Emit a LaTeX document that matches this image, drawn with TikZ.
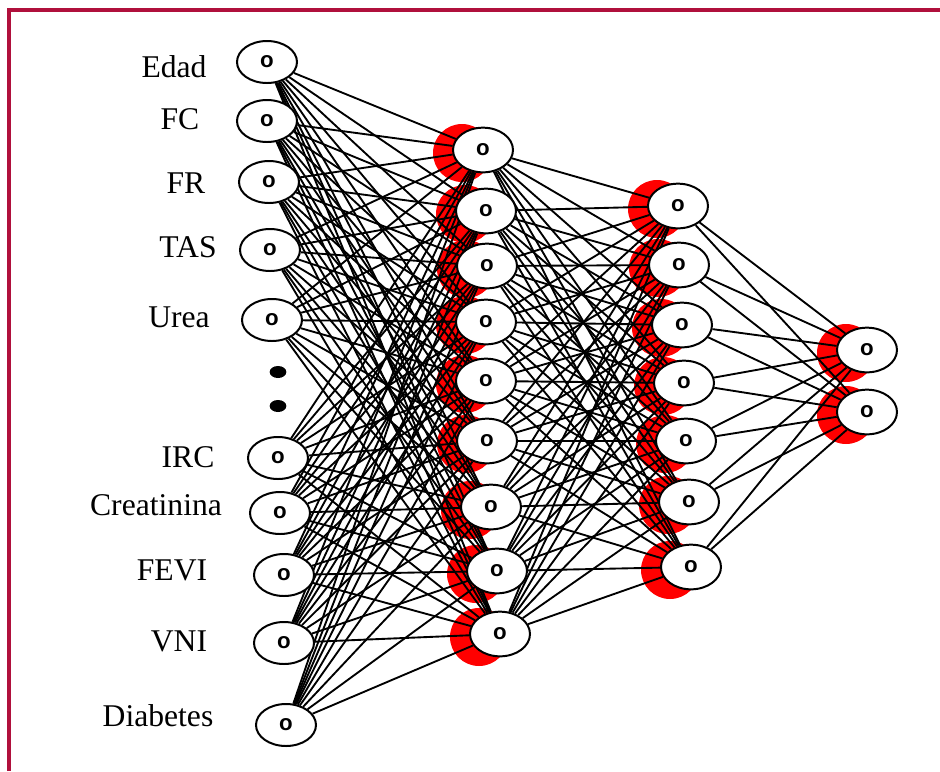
\documentclass[tikz,border=0pt]{standalone}
\usepackage{fontspec}
\setmainfont{Liberation Serif}
\newfontfamily\unitfont{Liberation Sans}
\usetikzlibrary{shapes.geometric}
\pgfdeclarelayer{blob}
\pgfdeclarelayer{wire}
\pgfsetlayers{blob,wire,main}

\begin{document}
\begin{tikzpicture}[x=0.03cm, y=-0.03cm]
  % Colors
  \definecolor{framecol}{RGB}{176,16,60}
  \definecolor{blobcol}{RGB}{255,0,0}
  %
  \def\lw{1.7pt}
  \def\br{0.87cm}
  %
  \tikzset{
    unit/.style={draw, line width=\lw, fill=white, ellipse, inner sep=0pt,
                 minimum width=1.8cm, minimum height=1.26cm,
                 font=\fontsize{19}{19}\selectfont\unitfont\bfseries},
    hunit/.style={unit, minimum height=1.34cm},
    feat/.style={font=\fontsize{27}{30}\selectfont},
    bigdot/.style={fill=black, ellipse, inner sep=0pt, minimum width=0.5cm,
                   minimum height=0.36cm},
    link/.style={line width=1.6pt},
    blob/.style={fill=blobcol},
  }
  %
  \useasboundingbox (0,0) rectangle (940,771);
  %
  % Frame
  \draw[framecol, line width=2.6pt] (9,771) -- (9,10) -- (940,10);
  %
  %%% INPUT LAYER %%%
  \foreach \n/\x/\y/\txt/\tx/\ty in {
    1/267/62/Edad/174/67, 2/267/121/FC/180/119, 3/269/182/FR/186/183,
    4/270/250/TAS/188/247, 5/272/320/Urea/179/317,
    6/278/458/IRC/188/457, 7/280/513/Creatinina/156/505,
    8/284/575/FEVI/172/570, 9/284/643/VNI/179/641,
    10/286/725/Diabetes/158/716%
  } {
    \node[unit] (in\n) at (\x,\y) {o};
    \node[feat] (lab\n) at (\tx,\ty) {\txt};
  }
  %
  \node[bigdot] (dotA) at (278,372) {};
  \node[bigdot] (dotB) at (278,406) {};
  %
  %%% HIDDEN LAYER 1 %%%
  \foreach \n/\x/\y in {
    1/483/150, 2/486/211, 3/487/266, 4/486/322, 5/486/381,
    6/487/441, 7/491/507, 8/497/571, 9/500/634%
  } {
    \node[hunit] (ha\n) at (\x,\y) {o};
    \begin{pgfonlayer}{blob}
      \fill[blob] ([shift={(-21,3)}]ha\n.center) circle[radius=\br];
    \end{pgfonlayer}
  }
  %
  %%% HIDDEN LAYER 2 %%%
  \foreach \n/\x/\y in {
    1/678/206, 2/679/265, 3/682/325, 4/684/383,
    5/686/441, 6/689/502, 7/691/567%
  } {
    \node[hunit] (hb\n) at (\x,\y) {o};
    \begin{pgfonlayer}{blob}
      \fill[blob] ([shift={(-21,3)}]hb\n.center) circle[radius=\br];
    \end{pgfonlayer}
  }
  %
  %%% OUTPUT LAYER %%%
  \foreach \n/\x/\y in {1/867/350, 2/867/412} {
    \node[hunit] (out\n) at (\x,\y) {o};
    \begin{pgfonlayer}{blob}
      \fill[blob] ([shift={(-21,3)}]out\n.center) circle[radius=\br];
    \end{pgfonlayer}
  }
  %
  % Links
  \begin{pgfonlayer}{wire}
    \foreach \i in {1,...,10}
      \foreach \j in {1,...,9}
        \draw[link] (in\i) -- (ha\j);
    \foreach \i in {1,...,9}
      \foreach \j in {1,...,7}
        \draw[link] (ha\i) -- (hb\j);
    \foreach \i in {1,...,7}
      \foreach \j in {1,2}
        \draw[link] (hb\i) -- (out\j);
  \end{pgfonlayer}
\end{tikzpicture}
\end{document}
